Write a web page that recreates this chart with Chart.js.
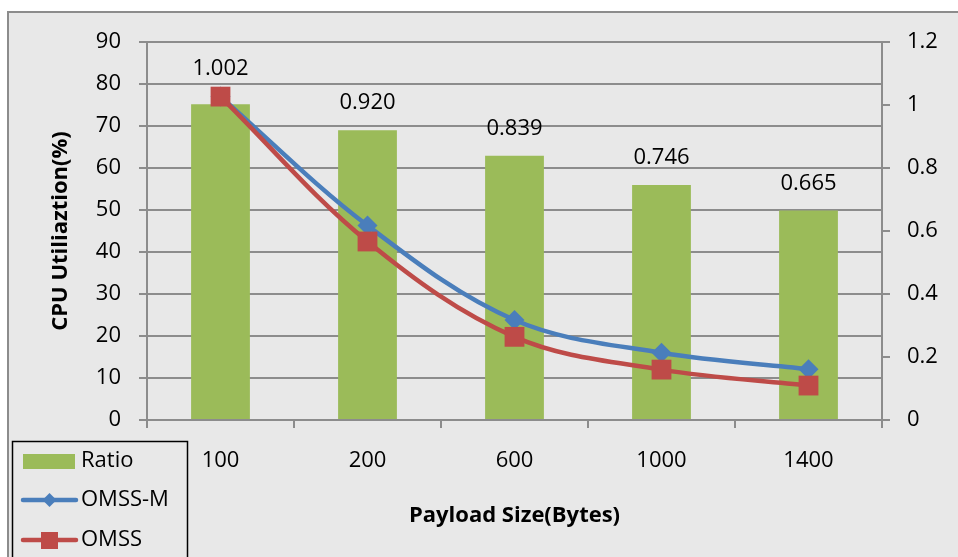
<!DOCTYPE html>
<html>
<head>
  <title>CPU Utilization vs Payload Size</title>
  <script src="https://cdn.jsdelivr.net/npm/chart.js"></script>
  <style>
    body { margin: 0; background: #fff; }
    canvas { display: block; }
  </style>
</head>
<body>
  <canvas id="cpuChart" width="958" height="557"></canvas>
  <script>
    // data
    const payloads = ['100', '200', '600', '1000', '1400'];
    const ratio = [1.002, 0.920, 0.839, 0.746, 0.665];
    const omssM = [77, 46.3, 23.8, 16, 12.1];
    const omss = [77, 42.5, 19.8, 12, 8.2];
    const leftTicks = [0, 10, 20, 30, 40, 50, 60, 70, 80, 90];
    const rightTicks = [0, 0.2, 0.4, 0.6, 0.8, 1, 1.2];

    const FONT = '"Open Sans", "Noto Sans", sans-serif';
    const GRID = '#8c8c8c';
    const GREEN = '#9bbb59';
    const BLUE = '#4a7ebb';
    const RED = '#be4b48';

    Chart.defaults.font.family = FONT;
    Chart.defaults.color = '#000';

    // grey backdrop with the frame line on top and left
    const backdrop = {
      id: 'backdrop',
      beforeDraw(chart) {
        const ctx = chart.ctx;
        ctx.save();
        ctx.fillStyle = '#fff';
        ctx.fillRect(0, 0, chart.width, chart.height);
        ctx.fillStyle = '#e8e8e8';
        ctx.fillRect(8, 12, chart.width - 8, chart.height - 12);
        ctx.strokeStyle = GRID;
        ctx.lineWidth = 2;
        ctx.beginPath();
        ctx.moveTo(chart.width, 12);
        ctx.lineTo(8, 12);
        ctx.lineTo(8, chart.height);
        ctx.stroke();
        ctx.restore();
      }
    };

    // value labels over the bars, nudged up if a line marker is in the way
    const barLabels = {
      id: 'barLabels',
      afterDatasetsDraw(chart) {
        const ctx = chart.ctx;
        const meta = chart.getDatasetMeta(0);
        ctx.save();
        ctx.font = '22px ' + FONT;
        ctx.fillStyle = '#000';
        ctx.textAlign = 'center';
        ctx.textBaseline = 'middle';
        meta.data.forEach((bar, i) => {
          let y = bar.y - 27;
          [1, 2].forEach(d => {
            const pt = chart.getDatasetMeta(d).data[i];
            if (pt && pt.y - 14 < y + 10) y = Math.min(y, pt.y - 28);
          });
          ctx.fillText(ratio[i].toFixed(3), bar.x, y);
        });
        ctx.restore();
      }
    };

    // boxed legend sitting in the bottom-left corner
    const boxLegend = {
      id: 'boxLegend',
      afterDraw(chart) {
        const ctx = chart.ctx;
        ctx.save();
        ctx.fillStyle = '#e8e8e8';
        ctx.fillRect(12, 441, 176, 130);
        ctx.strokeStyle = '#000';
        ctx.lineWidth = 1.5;
        ctx.strokeRect(12.5, 441.5, 175, 130);

        ctx.font = '22px ' + FONT;
        ctx.textBaseline = 'middle';

        // Ratio
        ctx.fillStyle = GREEN;
        ctx.fillRect(23, 454, 52, 15);
        ctx.fillStyle = '#000';
        ctx.fillText(chart.data.datasets[0].label, 81, 461);

        // OMSS-M
        ctx.strokeStyle = BLUE;
        ctx.lineWidth = 4.5;
        ctx.lineCap = 'round';
        ctx.beginPath();
        ctx.moveTo(23, 500);
        ctx.lineTo(76, 500);
        ctx.stroke();
        ctx.fillStyle = BLUE;
        ctx.beginPath();
        ctx.moveTo(49.5, 493);
        ctx.lineTo(56.5, 500);
        ctx.lineTo(49.5, 507);
        ctx.lineTo(42.5, 500);
        ctx.closePath();
        ctx.fill();
        ctx.fillStyle = '#000';
        ctx.fillText(chart.data.datasets[1].label, 81, 500);

        // OMSS
        ctx.strokeStyle = RED;
        ctx.beginPath();
        ctx.moveTo(23, 540);
        ctx.lineTo(76, 540);
        ctx.stroke();
        ctx.fillStyle = RED;
        ctx.fillRect(41, 532, 17, 17);
        ctx.fillStyle = '#000';
        ctx.fillText(chart.data.datasets[2].label, 81, 540);
        ctx.restore();
      }
    };

    new Chart(document.getElementById('cpuChart'), {
      type: 'bar',
      data: {
        labels: payloads,
        datasets: [
          {
            type: 'bar',
            label: 'Ratio',
            data: ratio,
            yAxisID: 'y1',
            backgroundColor: GREEN,
            borderWidth: 0,
            categoryPercentage: 1,
            barPercentage: 0.4,
            order: 3
          },
          {
            type: 'line',
            label: 'OMSS-M',
            data: omssM,
            yAxisID: 'y',
            borderColor: BLUE,
            backgroundColor: BLUE,
            borderWidth: 4.5,
            tension: 0.35,
            pointStyle: 'rectRot',
            pointRadius: 10,
            pointBorderWidth: 0,
            order: 2
          },
          {
            type: 'line',
            label: 'OMSS',
            data: omss,
            yAxisID: 'y',
            borderColor: RED,
            backgroundColor: RED,
            borderWidth: 4.5,
            tension: 0.35,
            pointStyle: 'rect',
            pointRadius: 14,
            pointBorderWidth: 0,
            order: 1
          }
        ]
      },
      options: {
        responsive: false,
        animation: false,
        devicePixelRatio: 1,
        layout: { padding: { top: 42, left: 0, right: 0, bottom: 0 } },
        plugins: {
          legend: { display: false },
          tooltip: { enabled: false }
        },
        scales: {
          x: {
            offset: true,
            grid: { offset: true, drawOnChartArea: false, drawTicks: true, tickLength: 8, color: GRID, lineWidth: 2 },
            border: { color: GRID, width: 2 },
            ticks: { font: { size: 22 }, padding: 20, maxRotation: 0 },
            title: {
              display: true,
              text: 'Payload Size(Bytes)',
              font: { size: 22, weight: 'bold' },
              padding: { top: 0, bottom: 28 }
            },
            afterFit(s) { s.height = 137; }
          },
          y: {
            position: 'left',
            min: 0,
            max: 90,
            afterBuildTicks(s) { s.ticks = leftTicks.map(v => ({ value: v })); },
            grid: { color: GRID, lineWidth: 2, tickLength: 8 },
            border: { color: GRID, width: 2 },
            ticks: { font: { size: 22 }, padding: 18 },
            title: {
              display: true,
              text: 'CPU Utiliaztion(%)',
              font: { size: 22, weight: 'bold' },
              padding: { top: 48, bottom: 0 }
            },
            afterFit(s) { s.width = 147; }
          },
          y1: {
            position: 'right',
            min: 0,
            max: 1.2,
            afterBuildTicks(s) { s.ticks = rightTicks.map(v => ({ value: v })); },
            grid: { drawOnChartArea: false, color: GRID, lineWidth: 2, tickLength: 8 },
            border: { color: GRID, width: 2 },
            ticks: { font: { size: 22 }, padding: 17, callback: v => String(+v.toFixed(1)) },
            afterFit(s) { s.width = 76; }
          }
        }
      },
      plugins: [backdrop, barLabels, boxLegend]
    });
  </script>
</body>
</html>
